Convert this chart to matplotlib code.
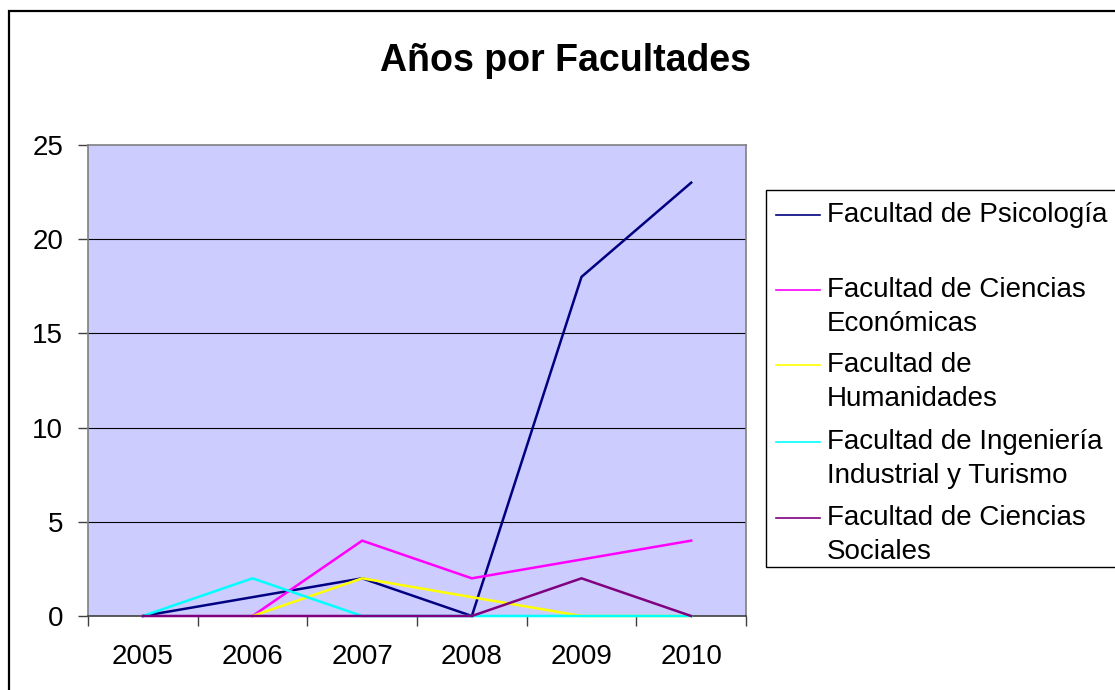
import numpy as np
import matplotlib
matplotlib.use("Agg")
import matplotlib.pyplot as plt
from matplotlib.patches import Rectangle
from matplotlib.lines import Line2D

plt.rcParams['font.family'] = ['Liberation Sans', 'DejaVu Sans']

years = ['2005', '2006', '2007', '2008', '2009', '2010']
psicologia = [0, 1, 2, 0, 18, 23]
economicas = [np.nan, 0, 4, 2, 3, 4]
humanidades = [np.nan, 0, 2, 1, 0, 0]
ingenieria = [0, 2, 0, 0, 0, 0]
sociales = [0, 0, 0, 0, 2, 0]

series = [
    (psicologia, '#000080', ['Facultad de Psicología']),
    (economicas, '#FF00FF', ['Facultad de Ciencias', 'Económicas']),
    (humanidades, '#FFFF00', ['Facultad de', 'Humanidades']),
    (ingenieria, '#00FFFF', ['Facultad de Ingeniería', 'Industrial y Turismo']),
    (sociales, '#800080', ['Facultad de Ciencias', 'Sociales']),
]

W, H = 1115, 690
fig = plt.figure(figsize=(W / 100, H / 100), dpi=100)

def fx(px):
    return px / W

def fy(py):
    return 1 - py / H

# outer chart border
fig.patches.append(Rectangle((fx(9), fy(700)), fx(1130) - fx(9), fy(11) - fy(700),
                             transform=fig.transFigure, fill=False,
                             edgecolor='black', linewidth=1.6))

ax = fig.add_axes([fx(88), fy(616), fx(746) - fx(88), fy(145) - fy(616)])
ax.set_facecolor('#CCCCFF')

x = np.arange(len(years))
for vals, col, lab in series:
    ax.plot(x, vals, color=col, linewidth=1.8, solid_joinstyle='miter',
            clip_on=False, zorder=3)

ax.set_xlim(-0.5, len(years) - 0.5)
ax.set_ylim(0, 25)
ax.set_yticks([0, 5, 10, 15, 20, 25])
ax.set_yticklabels(['0', '5', '10', '15', '20', '25'], fontsize=20)
for yv in [5, 10, 15, 20]:
    ax.axhline(yv, color='black', linewidth=0.8, zorder=0.5)

ax.set_xticks(np.arange(-0.5, len(years), 1.0))
ax.set_xticklabels([])
ax.set_xticks(x, minor=True)
ax.set_xticklabels(years, minor=True, fontsize=20)
ax.tick_params(axis='x', which='major', direction='out', length=7, width=1, color='#404040')
ax.tick_params(axis='x', which='minor', length=0, pad=20)
ax.tick_params(axis='y', direction='out', length=7, width=1, color='#404040', pad=11)

for side in ['top', 'right', 'left']:
    ax.spines[side].set_color('#808080')
    ax.spines[side].set_linewidth(1.2)
ax.spines['bottom'].set_color('#404040')
ax.spines['bottom'].set_linewidth(1.2)

fig.text(fx(566), fy(61), 'Años por Facultades', fontsize=27,
         fontweight='bold', ha='center', va='center')

# legend
fig.patches.append(Rectangle((fx(766), fy(567)), fx(1130) - fx(766), fy(190) - fy(567),
                             transform=fig.transFigure, facecolor='white',
                             edgecolor='black', linewidth=1.0))
entry_y = [215, 290, 365, 442, 518]
for (vals, col, lab), ey in zip(series, entry_y):
    fig.lines.append(Line2D([fx(776), fx(820)], [fy(ey), fy(ey)], color=col,
                            linewidth=1.2, transform=fig.transFigure))
    for k, line in enumerate(lab):
        fig.text(fx(827), fy(ey + k * 34), line, fontsize=20, ha='left', va='center')

fig.savefig('out.png', dpi=100)
